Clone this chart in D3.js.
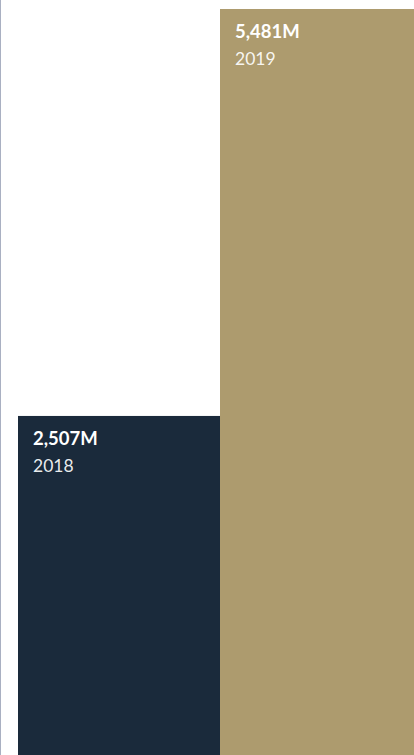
<!DOCTYPE html>
<html>
<head>
<meta charset="utf-8">
<script src="https://cdn.jsdelivr.net/npm/d3@7/dist/d3.min.js"></script>
<style>
  html, body { margin: 0; padding: 0; background: #fff; overflow: hidden; }
  svg { display: block; }
</style>
</head>
<body>
<svg id="chart" width="414" height="755"></svg>
<script>
// Annual totals, in millions
const years = ["2018", "2019"];
const values = [2507, 5481];
const valueLabels = ["2,507M", "5,481M"];
const colors = ["#1a2a3b", "#ad9b6e"];

const width = 414, height = 755;
const svg = d3.select("#chart");

const x = d3.scaleBand().domain(years).range([18, 422]).padding(0);
const y = d3.scaleLinear().domain([0, d3.max(values)]).range([759, 9]);

// left axis rule
svg.append("line")
  .attr("x1", 0.5).attr("x2", 0.5)
  .attr("y1", 0).attr("y2", height)
  .attr("stroke", "#a9b0c2").attr("stroke-width", 1);

const g = svg.selectAll("g.bar")
  .data(years.map((yr, i) => ({ yr, v: values[i], lbl: valueLabels[i], c: colors[i] })))
  .join("g").attr("class", "bar");

g.append("rect")
  .attr("x", d => x(d.yr))
  .attr("y", d => y(d.v))
  .attr("width", x.bandwidth())
  .attr("height", d => y(0) - y(d.v))
  .attr("fill", d => d.c);

g.append("text")
  .attr("x", d => x(d.yr) + 15)
  .attr("y", d => y(d.v) + 29)
  .attr("fill", "#ffffff")
  .style("font-family", "Lato, 'Open Sans', sans-serif")
  .style("font-weight", 700)
  .style("font-size", "18.5px")
  .text(d => d.lbl);

g.append("text")
  .attr("x", d => x(d.yr) + 15)
  .attr("y", d => y(d.v) + 56)
  .attr("fill", "rgba(255,255,255,0.92)")
  .style("font-family", "Lato, 'Open Sans', sans-serif")
  .style("font-weight", 400)
  .style("font-size", "17.5px")
  .text(d => d.yr);
</script>
</body>
</html>
